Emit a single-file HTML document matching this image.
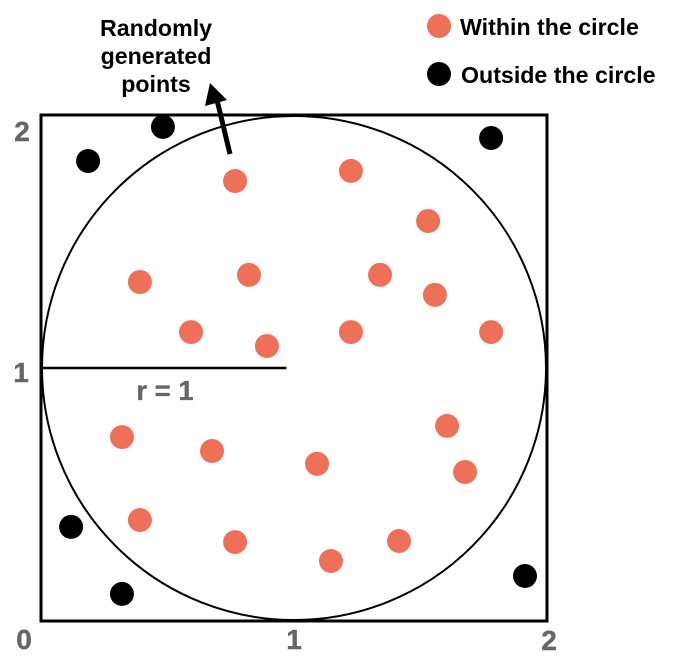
<!DOCTYPE html>
<html lang="en">
<head>
<meta charset="utf-8">
<title>Monte Carlo circle in a square</title>
<style>
html,body{margin:0;padding:0;background:#fff;}
svg{display:block;font-family:"Liberation Sans",Arial,sans-serif;font-weight:bold;}
</style>
</head>
<body>
<svg id="chart" width="688" height="662" viewBox="0 0 688 662" xmlns="http://www.w3.org/2000/svg">
  <rect width="688" height="662" fill="#ffffff"/>
  <g id="frame"></g>
  <g id="points"></g>
  <g id="ticks"></g>
  <g font-size="23.2" fill="#000" text-anchor="middle">
    <text x="156" y="36">Randomly</text>
    <text x="156" y="64">generated</text>
    <text x="156" y="92">points</text>
  </g>
  <line x1="230" y1="154" x2="217" y2="100" stroke="#000" stroke-width="5"/>
  <polygon points="210,83 227,100 205,106" fill="#000"/>
  <text x="165" y="400" font-size="27.5" stroke="#666" stroke-width="0.3" fill="#666" text-anchor="middle">r = 1</text>
  <g font-size="23.2" fill="#000">
    <circle cx="439" cy="26" r="12" fill="#ee7059"/>
    <text x="460" y="35">Within the circle</text>
    <circle cx="439" cy="74" r="12" fill="#000"/>
    <text x="461" y="83">Outside the circle</text>
  </g>
</svg>
<script>
const insideX = [0.767,1.225,1.530,0.391,0.822,1.340,1.557,0.593,1.225,1.779,0.893,0.320,0.676,1.091,1.605,1.676,0.391,0.767,1.146,1.415];
const insideY = [1.739,1.779,1.581,1.340,1.368,1.368,1.289,1.142,1.142,1.142,1.087,0.727,0.672,0.621,0.771,0.589,0.399,0.312,0.237,0.316];
const outsideX = [0.482,0.186,1.779,0.119,0.320,1.913];
const outsideY = [1.953,1.818,1.909,0.372,0.107,0.178];
const xTickValues = [0,1,2];
const yTickValues = [1,2];
const radiusValue = 1;

const SVG_NS = 'http://www.w3.org/2000/svg';
const scale = 253;
function xAxis(v){ return 41 + v * scale; }
function yAxis(v){ return 621 - v * scale; }
function make(parent, tag, attrs){
  const el = document.createElementNS(SVG_NS, tag);
  for (const k in attrs) el.setAttribute(k, attrs[k]);
  parent.appendChild(el);
  return el;
}

const frame = document.getElementById('frame');
const square = make(frame, 'rect', {x:xAxis(0), y:yAxis(2), width:xAxis(2)-xAxis(0), height:yAxis(0)-yAxis(2), fill:'none', stroke:'#000', 'stroke-width':3});


const circle = make(frame, 'circle', {cx:xAxis(1), cy:yAxis(1), r:scale - 1, fill:'none', stroke:'#000', 'stroke-width':2});


const radius = make(frame, 'line', {x1:xAxis(0), y1:yAxis(1), x2:xAxis(radiusValue * 0.97), y2:yAxis(1), stroke:'#000', 'stroke-width':2.5});



const points = document.getElementById('points');
insideX.forEach(function(v, i){
  const c = make(points, 'circle', {cx:xAxis(v), cy:yAxis(insideY[i]), r:12, fill:'#ee7059'});
  
  
});
outsideX.forEach(function(v, i){
  const c = make(points, 'circle', {cx:xAxis(v), cy:yAxis(outsideY[i]), r:12, fill:'#000'});
  
  
});

const ticks = document.getElementById('ticks');
xTickValues.forEach(function(v){
  const t = make(ticks, 'text', {x:xAxis(v) + (v === 0 ? -17 : v === 2 ? 2 : 0), y:v === 2 ? 650 : 649, 'font-size':28, stroke:'#666', 'stroke-width':0.4, fill:'#666', 'text-anchor':'middle'});
  t.textContent = String(v);
  
  
});
yTickValues.forEach(function(v){
  const t = make(ticks, 'text', {x:v === 1 ? 21 : 22, y:yAxis(v) + (v === 1 ? 14 : 26), 'font-size':28, stroke:'#666', 'stroke-width':0.4, fill:'#666', 'text-anchor':'middle'});
  t.textContent = String(v);
  
  
});
</script>
</body>
</html>
